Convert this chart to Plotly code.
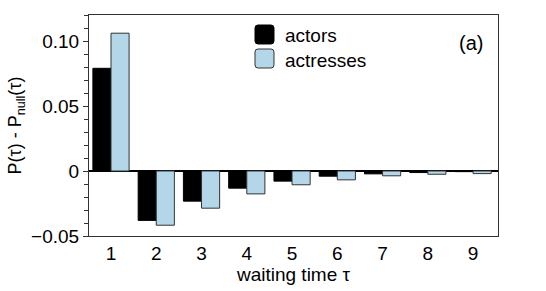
import plotly.graph_objects as go

tau = [1, 2, 3, 4, 5, 6, 7, 8, 9]
actors = [0.079, -0.038, -0.0232, -0.0132, -0.0078, -0.0040, -0.0022, -0.0012, -0.0005]
actresses = [0.106, -0.0417, -0.0286, -0.0176, -0.0106, -0.0068, -0.0037, -0.0025, -0.0020]
ytick_vals = [-0.05, 0, 0.05, 0.10]
ytick_text = ["\u22120.05", "0", "0.05", "0.10"]
series_names = ["actors", "actresses"]

BLUE = "#b3d7e9"
FONT = "Liberation Sans, Arial, Helvetica, sans-serif"

W, H = 546, 291
L, R, T, B = 89, 48, 15, 55
pw, ph = W - L - R, H - T - B

fig = go.Figure()
fig.add_trace(go.Bar(x=tau, y=actors, name=series_names[0], marker=dict(color="black", line=dict(color="black", width=1))))
fig.add_trace(go.Bar(x=tau, y=actresses, name=series_names[1], marker=dict(color=BLUE, line=dict(color="#333333", width=1))))


def px2paper(x, y):
    return (x - L) / pw, (H - B - y) / ph


def rounded_rect(x0, y0, x1, y1, r=3):
    def p(x, y):
        a, b = px2paper(x, y)
        return f"{a:.5f},{b:.5f}"
    path = (f"M {p(x0 + r, y0)} L {p(x1 - r, y0)} Q {p(x1, y0)} {p(x1, y0 + r)} "
            f"L {p(x1, y1 - r)} Q {p(x1, y1)} {p(x1 - r, y1)} "
            f"L {p(x0 + r, y1)} Q {p(x0, y1)} {p(x0, y1 - r)} "
            f"L {p(x0, y0 + r)} Q {p(x0, y0)} {p(x0 + r, y0)} Z")
    return path


shapes = [
    dict(type="path", xref="paper", yref="paper", path=rounded_rect(255, 25, 274, 44),
         fillcolor="black", line=dict(color="black", width=1)),
    dict(type="path", xref="paper", yref="paper", path=rounded_rect(255, 49, 274, 68),
         fillcolor=BLUE, line=dict(color="#333333", width=1)),
]
annotations = []
for name, yc in zip(series_names, [35, 60]):
    ax, ay = px2paper(283, yc)
    annotations.append(dict(text=name, x=ax, y=ay, xref="paper", yref="paper",
                            xanchor="left", yanchor="middle", showarrow=False,
                            font=dict(size=19, color="black", family=FONT)))
ax, ay = px2paper(485, 43)
annotations.append(dict(text="(a)", x=ax, y=ay, xref="paper", yref="paper",
                        xanchor="right", yanchor="middle", showarrow=False,
                        font=dict(size=20, color="black", family=FONT)))

fig.update_layout(
    width=W, height=H,
    margin=dict(l=L, r=R, t=T, b=B, pad=0),
    paper_bgcolor="white", plot_bgcolor="white",
    barmode="group", bargap=0.2, bargroupgap=0,
    showlegend=False,
    font=dict(family=FONT, size=19, color="black"),
    shapes=shapes, annotations=annotations,
    xaxis=dict(range=[0.514, 9.55], tickvals=tau, ticks="", showgrid=False, automargin=False,
               zeroline=False, showline=True, linecolor="#333333", linewidth=1, mirror=True,
               title=dict(text="waiting time \u03c4", font=dict(size=19), standoff=0),
               tickfont=dict(size=19)),
    yaxis=dict(range=[-0.05, 0.12], tickvals=ytick_vals, ticktext=ytick_text, automargin=False,
               ticks="outside", ticklen=5, tickcolor="#333333", showgrid=False,
               zeroline=True, zerolinecolor="black", zerolinewidth=1.5,
               showline=True, linecolor="#333333", linewidth=1, mirror=True,
               minor=dict(dtick=0.01, ticks="outside", ticklen=4, tickcolor="#333333", showgrid=False),
               title=dict(text="P(\u03c4) - P<sub>null</sub>(\u03c4)", font=dict(size=18), standoff=4),
               tickfont=dict(size=19)),
)

fig.write_html("out.html", config={"displayModeBar": False},
               post_script="document.body.style.margin='0';document.body.style.overflow='hidden';")
